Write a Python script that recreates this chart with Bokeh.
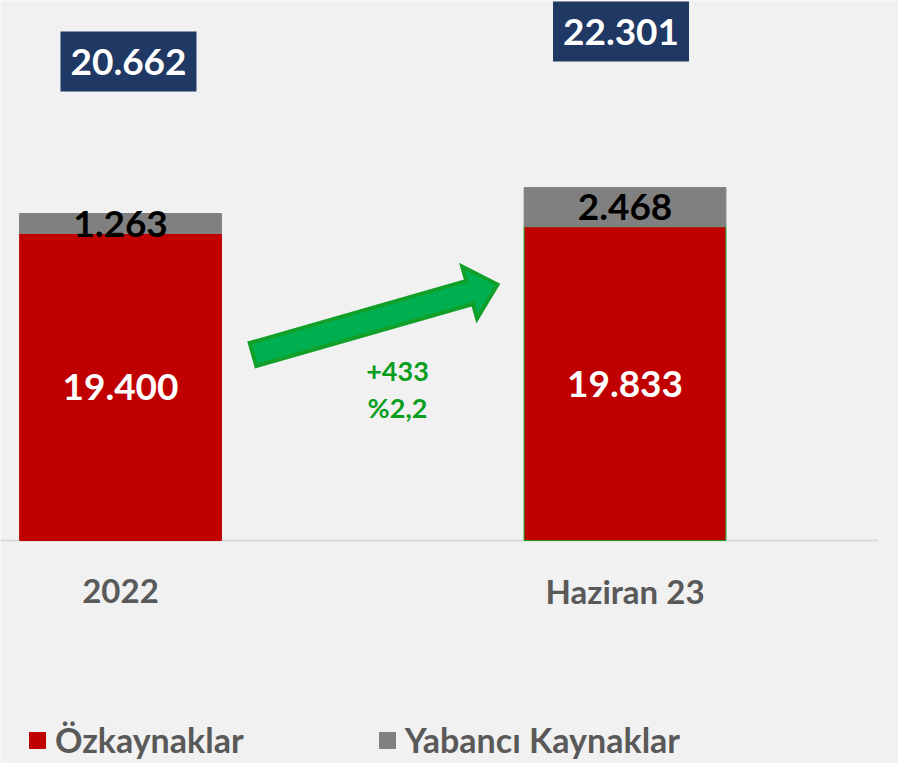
import numpy as np
from bokeh.plotting import figure
from bokeh.models import ColumnDataSource, Legend, LegendItem
from bokeh.core.properties import value
from bokeh.embed import file_html
from bokeh.resources import INLINE

# ---- data ----
categories = ["2022", "Haziran 23"]
ozkaynaklar = [19400, 19833]
yabanci = [1263, 2468]
totals = [20662, 22301]
change_abs = "+433"
change_pct = "%2,2"
series_names = ["Özkaynaklar", "Yabancı Kaynaklar"]


def tr(v):
    return f"{v:,}".replace(",", ".")


# ---- geometry (screen) ----
W, H = 898, 763
BASE_PX = 540.0            # px from top where value 0 sits
PX_PER_UNIT = 307.0 / 19400.0
X0_PX = 120.0              # px of first category centre
X_UNIT_PX = 504.5          # px between categories

x_start = -X0_PX / X_UNIT_PX
x_end = x_start + W / X_UNIT_PX
y_start = -(H - BASE_PX) / PX_PER_UNIT
y_end = y_start + H / PX_PER_UNIT


def dx(px):
    return x_start + px / X_UNIT_PX


def dy(py):
    return y_end - py / PX_PER_UNIT


FONT = value("Lato")
RED, GRAY, NAVY = "#c00000", "#808080", "#1f3864"
GREEN_TXT = "#0a9e1e"
AXIS_TXT = "#595959"

p = figure(width=W, height=H, x_range=(x_start, x_end), y_range=(y_start, y_end),
           output_backend="svg", toolbar_location=None,
           x_axis_type=None, y_axis_type=None, min_border=0,
           background_fill_color="#f1f1f1", border_fill_color="#f1f1f1",
           outline_line_color=None)
p.grid.visible = False

xs = list(range(len(categories)))
tops_red = ozkaynaklar
tops_gray = [a + b for a, b in zip(ozkaynaklar, yabanci)]

src = ColumnDataSource(dict(
    x=xs, red=tops_red, gray_top=tops_gray,
    red_line=[RED, "#1a9a1a"],
    red_lbl=[tr(v) for v in ozkaynaklar], red_lbl_y=[v / 2 for v in ozkaynaklar],
    gray_lbl=[tr(v) for v in yabanci],
    gray_lbl_y=[a + b / 2 for a, b in zip(ozkaynaklar, yabanci)],
    tot_lbl=[tr(v) for v in totals],
    tot_x=[x + d / X_UNIT_PX for x, d in zip(xs, [8, -4])],
    tot_y=[t + o / PX_PER_UNIT for t, o in zip(tops_gray, [152, 156])],
    cat=categories,
))

# baseline
p.segment(x0=[x_start], y0=[0], x1=[dx(877)], y1=[0], line_color="#d9d9d9", line_width=2)

r_red = p.vbar(x="x", bottom=0, top="red", width=0.4, source=src,
               fill_color=RED, line_color="red_line", line_width=1)
r_gray = p.vbar(x="x", bottom="red", top="gray_top", width=0.4, source=src,
                fill_color=GRAY, line_color=GRAY, line_width=1)

# value labels
p.text(x="x", y="red_lbl_y", text="red_lbl", source=src, text_align="center",
       text_baseline="middle", text_font=FONT, text_font_style="bold",
       text_font_size="37px", text_color="white")
p.text(x="x", y="gray_lbl_y", text="gray_lbl", source=src, text_align="center",
       text_baseline="middle", text_font=FONT, text_font_style="bold",
       text_font_size="37px", text_color="black")

# total boxes
p.rect(x="tot_x", y="tot_y", width=136, height=60, width_units="screen",
       height_units="screen", source=src, fill_color=NAVY, line_color=None)
p.text(x="tot_x", y="tot_y", text="tot_lbl", source=src, text_align="center",
       text_baseline="middle", text_font=FONT, text_font_style="bold",
       text_font_size="37px", text_color="white")

# category labels
p.text(x="x", y=dy(590), text="cat", source=src, text_align="center",
       text_baseline="middle", text_font=FONT, text_font_style="bold",
       text_font_size="33px", text_color=AXIS_TXT)

# growth arrow (computed in screen space, converted to data)
tail = np.array([252.5, 354.0])
tip = np.array([497.0, 284.0])
d = (tip - tail) / np.linalg.norm(tip - tail)
n = np.array([d[1], -d[0]])
hw, hh, hl = 12.0, 27.0, 29.0
base = tip - d * hl
pts = [tail + n * hw, base + n * hw, base + n * hh, tip,
       base - n * hh, base - n * hw, tail - n * hw]
p.patch(x=[dx(q[0]) for q in pts], y=[dy(q[1]) for q in pts],
        fill_color="#00b050", line_color="#10a02a", line_width=4, line_join="miter")

mid_x = dx(397)
p.text(x=[mid_x, mid_x], y=[dy(371), dy(407)], text=[change_abs, change_pct],
       text_align="center", text_baseline="middle", text_font=FONT,
       text_font_style="bold", text_font_size="27px", text_color=GREEN_TXT)

# legend
legend = Legend(items=[LegendItem(label=series_names[0], renderers=[r_red]),
                       LegendItem(label=series_names[1], renderers=[r_gray])],
                orientation="horizontal", location=(27, 3),
                glyph_width=20, glyph_height=20, label_standoff=8, spacing=133,
                padding=0, margin=0, border_line_color=None, background_fill_alpha=0,
                label_text_font="Lato", label_text_font_style="bold",
                label_text_font_size="34px", label_text_color=AXIS_TXT)
p.add_layout(legend, "center")

open("out.html", "w").write(file_html(p, INLINE))
